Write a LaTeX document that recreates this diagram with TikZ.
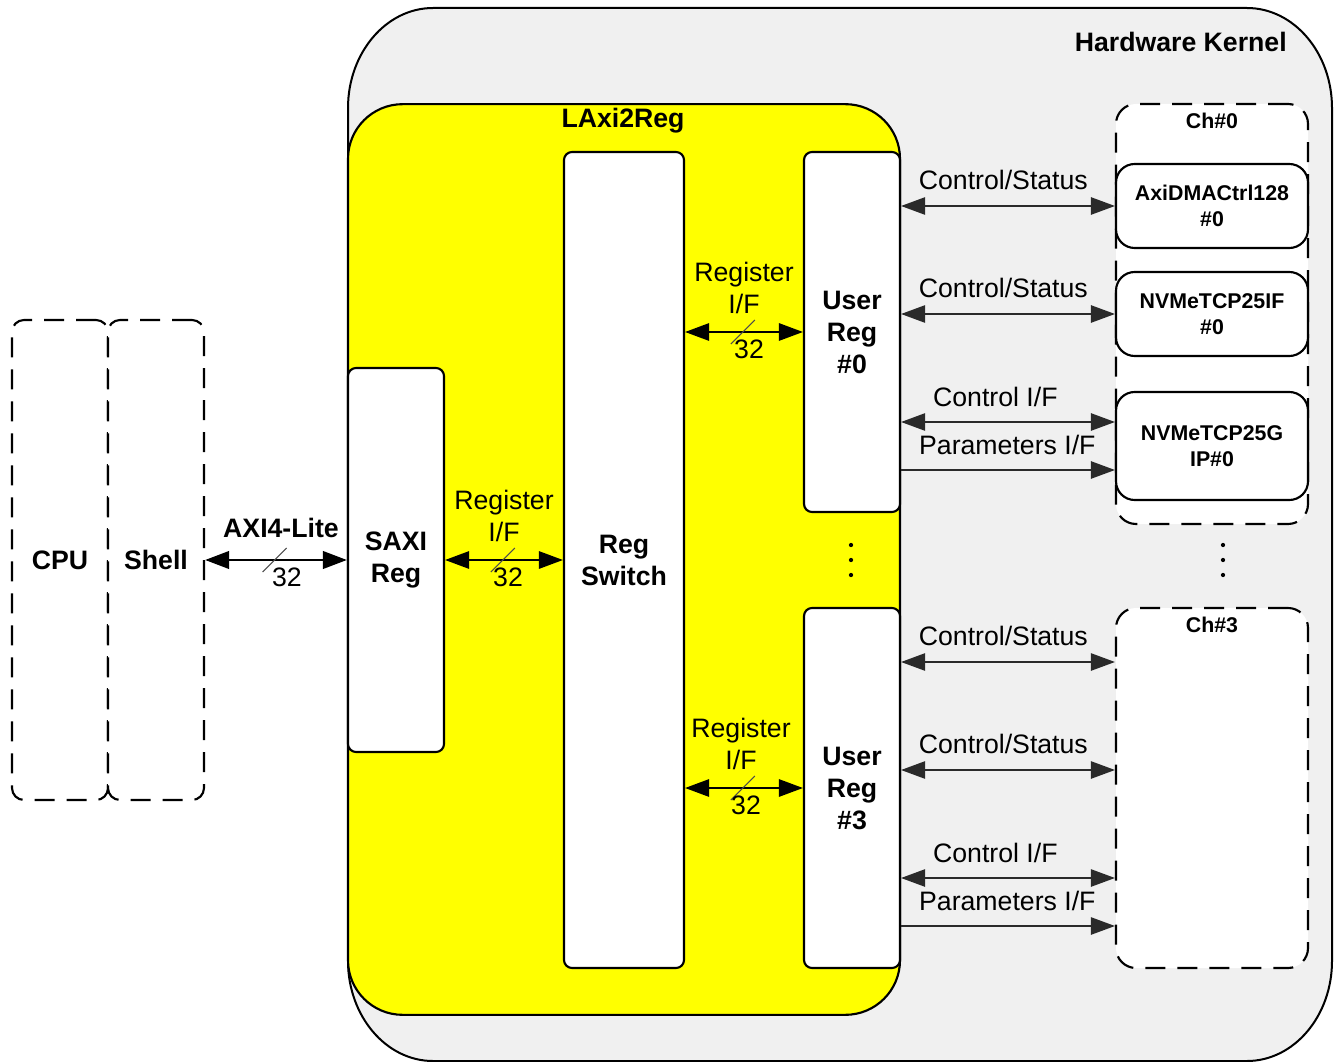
\documentclass[tikz,border=0pt]{standalone}
\usepackage{fontspec}
\setmainfont{Liberation Sans}
\usetikzlibrary{arrows.meta,calc}

\definecolor{kernelgray}{RGB}{240,240,240}
\definecolor{laxyellow}{RGB}{255,255,0}
\definecolor{wireline}{HTML}{2A2A2A}

\tikzset{
  txt/.style={font=\fontsize{20}{24}\selectfont, align=center, inner sep=0pt},
  btxt/.style={font=\fontsize{20}{24}\selectfont\bfseries, align=center, inner sep=0pt},
  ctxt/.style={font=\fontsize{16}{19.5}\selectfont\bfseries, align=center, inner sep=0pt},
  blk/.style={draw, line width=1.6pt, fill=white, rounded corners=6pt,
    btxt},
  chbox/.style={draw, line width=1.6pt, fill=white, rounded corners=14pt,
    ctxt},
  dashbox/.style={draw, line width=1.6pt, dash pattern=on 15pt off 9pt,
    fill=white, btxt},
  ctl/.style={draw=wireline, line width=1.1pt,
    {Triangle[length=18pt,width=13pt]}-{Triangle[length=18pt,width=13pt]}},
  ctlone/.style={draw=wireline, line width=1.1pt,
    -{Triangle[length=18pt,width=13pt]}},
  regbus/.style={draw, line width=1.4pt,
    {Triangle[length=18pt,width=13pt]}-{Triangle[length=18pt,width=13pt]}},
  axibus/.style={draw, line width=2.2pt,
    {Triangle[length=18pt,width=13pt]}-{Triangle[length=18pt,width=13pt]}},
  slashmark/.style={draw=black!70, line width=0.8pt},
  dotmark/.style={fill=black}
}

\begin{document}
\begin{tikzpicture}[x=0.75pt,y=-0.75pt]
\useasboundingbox (0,0) rectangle (1338,1062);
\clip (0,0) rectangle (1338,1062);

% Hardware kernel frame
\draw[line width=1.5pt, fill=kernelgray]
  (348,108) -- (348,961)
  .. controls (348,1016) and (386,1061) .. (433,1061) -- (1247,1061)
  .. controls (1294,1061) and (1332,1016) .. (1332,961) -- (1332,108)
  .. controls (1332,53) and (1294,8) .. (1247,8) -- (433,8)
  .. controls (386,8) and (348,53) .. (348,108) -- cycle;
\node[btxt, anchor=east] (hwk) at (1287,42) {Hardware Kernel};

% LAxi2Reg block
\node[draw, line width=1.6pt, fill=laxyellow, rounded corners=41pt,
  minimum width=414pt, minimum height=683pt] (lax) at (624,559.5) {};
\node[btxt] (laxt) at (623,121) {LAxi2Reg};

% Host side
\node[dashbox, rounded corners=9pt, minimum width=72pt, minimum height=360pt]
  (cpu) at (60,560) {CPU};
\node[dashbox, rounded corners=9pt, minimum width=72pt, minimum height=360pt]
  (shell) at (156,560) {Shell};

% Inner blocks
\node[blk, minimum width=72pt, minimum height=288pt] (saxi) at (396,560) {SAXI\\Reg};
\node[blk, minimum width=90pt, minimum height=612pt] (sw) at (624,560) {Reg\\Switch};
\node[blk, minimum width=72pt, minimum height=270pt] (ur0) at (852,332) {User\\Reg\\\#0};
\node[blk, minimum width=72pt, minimum height=270pt] (ur3) at (852,788) {User\\Reg\\\#3};

% Channels
\node[dashbox, rounded corners=15pt, minimum width=144pt, minimum height=315pt]
  (ch0) at (1212,314) {};
\node[ctxt] (ch0t) at (1212,121) {Ch\#0};
\node[chbox, minimum width=144pt, minimum height=63pt] (dma) at (1212,206) {AxiDMACtrl128\\\#0};
\node[chbox, minimum width=144pt, minimum height=63pt] (nif) at (1212,314) {NVMeTCP25IF\\\#0};
\node[chbox, minimum width=144pt, minimum height=81pt] (nip) at (1212,446) {NVMeTCP25G\\IP\#0};

\node[dashbox, rounded corners=15pt, minimum width=144pt, minimum height=270pt]
  (ch3) at (1212,788) {};
\node[ctxt] (ch3t) at (1212,625) {Ch\#3};

% AXI4-Lite bus
\draw[axibus] (shell.east) -- coordinate[pos=0.49] (axm) (saxi.west);
\draw[slashmark] ([shift={(-9pt,-9pt)}]axm) -- ([shift={(9pt,9pt)}]axm);
\node[btxt] (axil) at (281,528) {AXI4-Lite};
\node[txt] (axiw) at (287,577) {32};

% Register interfaces
\draw[regbus] (saxi.east) -- coordinate[pos=0.49] (r1m) (sw.west);
\draw[slashmark] ([shift={(-9pt,-9pt)}]r1m) -- ([shift={(9pt,9pt)}]r1m);
\node[txt] (r1l) at (504,516) {Register\\I/F};
\node[txt] (r1w) at (508,577) {32};

\draw[regbus] (sw.east |- ur0.west) -- coordinate[pos=0.49] (r2m) (ur0.west);
\draw[slashmark] ([shift={(-9pt,-9pt)}]r2m) -- ([shift={(9pt,9pt)}]r2m);
\node[txt] (r2l) at (744,288) {Register\\I/F};
\node[txt] (r2w) at (749,349) {32};

\draw[regbus] (sw.east |- ur3.west) -- coordinate[pos=0.49] (r3m) (ur3.west);
\draw[slashmark] ([shift={(-9pt,-9pt)}]r3m) -- ([shift={(9pt,9pt)}]r3m);
\node[txt] (r3l) at (741,744) {Register\\I/F};
\node[txt] (r3w) at (746,805) {32};

% Channel 0 links
\draw[ctl] (ur0.east |- dma.west) -- node[txt, yshift=19.5pt, xshift=-3.5pt] {Control/Status} (dma.west);
\draw[ctl] (ur0.east |- nif.west) -- node[txt, yshift=19.5pt, xshift=-3.5pt] {Control/Status} (nif.west);
\draw[ctl] ([yshift=-67.5pt]ur0.east) -- node[txt, yshift=19pt, xshift=-9.5pt] {Control I/F} ([yshift=18pt]nip.west);
\draw[ctlone] ([yshift=-103.5pt]ur0.east) -- node[txt, yshift=19pt, xshift=-0.5pt] {Parameters I/F} ([yshift=-18pt]nip.west);

% Channel 3 links
\draw[ctl] ([yshift=94.5pt]ur3.east) -- node[txt, yshift=19.5pt, xshift=-3.5pt] {Control/Status} ([yshift=94.5pt]ch3.west);
\draw[ctl] ([yshift=13.5pt]ur3.east) -- node[txt, yshift=19.5pt, xshift=-3.5pt] {Control/Status} ([yshift=13.5pt]ch3.west);
\draw[ctl] ([yshift=-67.5pt]ur3.east) -- node[txt, yshift=19pt, xshift=-9.5pt] {Control I/F} ([yshift=-67.5pt]ch3.west);
\draw[ctlone] ([yshift=-103.5pt]ur3.east) -- node[txt, yshift=19pt, xshift=-0.5pt] {Parameters I/F} ([yshift=-103.5pt]ch3.west);

% Continuation dots
\foreach \yy in {545,560,575} {
  \fill[dotmark] (851,\yy) circle (1.6pt);
  \fill[dotmark] (1223,\yy) circle (1.6pt);
}
\end{tikzpicture}
\end{document}
